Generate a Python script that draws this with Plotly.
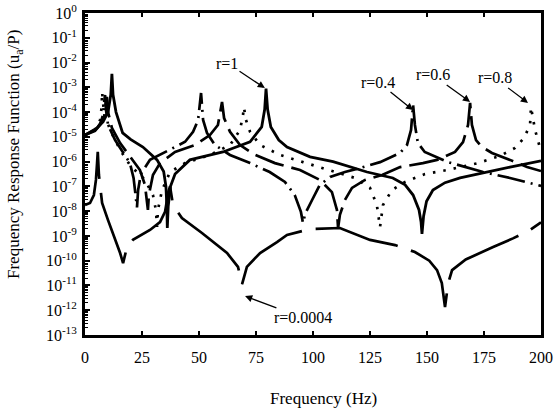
import numpy as np
import plotly.graph_objects as go

# ---- data: frequency (Hz) and log10 of FRF (u_a/P) ----
r1_f = [0, 4.4, 7.9, 10.1, 11.3, 11.8, 12.3, 13.6, 16.5, 20.0, 25.4, 31.6, 34.5, 35.5, 35.9, 36.1,
        36.5, 37.5, 39.5, 46.0, 60.5, 72.4, 77.5, 78.8, 79.4, 80.1, 81.5, 85.0, 88.6, 98.7, 108.8,
        123.7, 135.0, 140.4, 143.9, 146.5, 147.4, 147.8, 148.5, 149.8, 152.6, 157.9, 164.5, 176.3,
        186.4, 200]
r1_L = [-4.93, -4.72, -4.40, -4.00, -3.30, -2.46, -3.30, -4.00, -4.84, -5.10, -5.41, -5.93, -6.40,
        -7.00, -7.80, -8.68, -7.80, -7.00, -6.50, -5.93, -5.61, -5.20, -4.60, -3.90, -3.05, -3.90,
        -4.60, -5.13, -5.41, -5.81, -6.00, -6.42, -6.66, -6.94, -7.35, -7.95, -8.44, -8.92, -8.20,
        -7.60, -7.15, -6.85, -6.66, -6.42, -6.22, -5.97]

r04_f = [0, 4.4, 6.6, 7.9, 8.4, 8.8, 9.2, 10.1, 13.2, 16.7, 19.7, 21.3, 22.2, 22.8, 23.3, 24.5,
         28.5, 37.3, 43.9, 47.4, 49.6, 50.9, 51.8, 53.5, 57.0, 63.6, 72.4, 81.0, 87.7, 92.0, 94.7,
         95.6, 96.6, 99.6, 103.0, 107.5, 114.0, 120.6, 129.4, 138.2, 141.2, 143.0, 143.9, 144.7,
         146.0, 149.0, 159.2, 174.6, 186.4, 200]
r04_L = [-4.93, -4.76, -4.52, -4.12, -3.60, -3.31, -3.90, -4.52, -5.13, -5.61, -6.06, -6.66, -7.35,
         -7.85, -7.15, -6.50, -5.93, -5.53, -5.20, -4.80, -4.32, -3.23, -4.32, -4.84, -5.33, -5.73,
         -6.06, -6.42, -6.82, -7.35, -8.03, -8.48, -8.10, -7.55, -6.94, -6.62, -6.42, -6.26, -6.02,
         -5.65, -5.33, -4.72, -3.71, -4.52, -5.25, -5.61, -6.02, -6.42, -6.66, -6.98]

r06_f = [0, 5.3, 8.3, 9.2, 9.6, 10.1, 11.8, 15.4, 19.7, 24.1, 26.3, 27.2, 27.6, 28.0, 29.8, 32.9,
         39.5, 48.2, 54.8, 58.3, 59.6, 60.1, 61.0, 63.6, 68.0, 74.6, 83.3, 94.3, 103.0, 108.3, 110.5,
         111.0, 111.8, 114.0, 117.1, 122.8, 130.3, 138.2, 148.2, 154.4, 162.3, 165.8, 168.0, 168.9,
         169.7, 171.5, 174.1, 178.5, 186.4, 193.9, 200]
r06_L = [-4.93, -4.64, -4.24, -3.71, -3.39, -4.00, -4.64, -5.25, -5.81, -6.34, -6.94, -7.55, -7.95,
         -7.35, -6.54, -6.06, -5.61, -5.33, -4.93, -4.52, -3.92, -3.59, -4.24, -4.80, -5.33, -5.73,
         -6.06, -6.34, -6.74, -7.23, -7.95, -8.68, -8.15, -7.55, -7.06, -6.74, -6.54, -6.22, -6.06,
         -5.93, -5.61, -5.21, -4.52, -3.63, -4.52, -5.13, -5.41, -5.65, -5.93, -6.22, -6.38]

r08_f = [0, 4.4, 6.6, 7.3, 7.5, 7.9, 8.3, 11.0, 15.4, 19.7, 26.3, 29.8, 31.1, 31.6, 32.0, 33.8,
         37.3, 43.9, 54.8, 63.6, 68.0, 69.3, 69.7, 70.6, 72.4, 76.8, 85.5, 95.6, 109.6, 118.4, 125.0,
         128.0, 129.4, 130.7, 134.6, 140.4, 149.1, 158.8, 172.4, 182.0, 188.6, 192.5, 195.2, 195.6,
         197.4, 200]
r08_L = [-4.93, -4.72, -4.32, -3.80, -3.19, -3.60, -4.00, -4.72, -5.53, -6.14, -6.74, -7.35, -7.95,
         -8.64, -7.95, -7.15, -6.42, -6.06, -5.73, -5.33, -4.72, -4.12, -3.80, -4.32, -4.80, -5.33,
         -5.73, -6.02, -6.42, -6.66, -7.06, -7.75, -8.64, -7.75, -7.15, -6.82, -6.50, -6.34, -6.06,
         -5.77, -5.45, -5.05, -4.52, -3.80, -4.72, -5.60]

r00004_f = [0, 2.2, 3.9, 4.8, 5.3, 5.6, 6.1, 7.5, 10.1, 12.3, 15.4, 16.7, 18.4, 21.0, 28.5, 32.9,
            35.1, 36.6, 37.3, 38.6, 42.5, 51.3, 59.2, 62.3, 67.1, 68.9, 71.0, 76.8, 84.2, 88.6,
            98.7, 111.8, 125.0, 136.0, 144.7, 151.0, 154.4, 156.5, 157.9, 159.3, 161.0, 167.0,
            179.0, 187.7, 195.2, 200]
r00004_L = [-7.75, -7.67, -7.35, -6.74, -6.06, -5.60, -6.54, -7.67, -8.36, -8.88, -9.69, -10.10,
            -9.45, -9.16, -8.76, -8.44, -8.03, -7.20, -7.00, -7.75, -8.28, -8.88, -9.49, -9.69,
            -10.25, -10.95, -10.25, -9.69, -9.25, -8.96, -8.72, -8.68, -9.16, -9.37, -9.65, -10.00,
            -10.38, -10.90, -11.87, -10.90, -10.38, -9.95, -9.45, -9.10, -8.76, -8.45]

y_exponents = list(range(0, -14, -1))
x_ticks = [0, 25, 50, 75, 100, 125, 150, 175, 200]

SERIF = "Liberation Serif, Times New Roman, serif"

fig = go.Figure()

def add_curve(f, L, dash, width=2.7):
    fig.add_trace(go.Scatter(
        x=f, y=np.power(10.0, np.array(L)), mode="lines",
        line=dict(color="black", width=width, dash=dash),
        hoverinfo="skip"))

add_curve(r00004_f, r00004_L, "85px,14px")
add_curve(r04_f, r04_L, "28px,6px,2px,6px")
add_curve(r06_f, r06_L, "30px,8px")
add_curve(r08_f, r08_L, "2.5px,8px", width=2.7)
add_curve(r1_f, r1_L, "solid", width=2.8)

fig.update_xaxes(
    range=[0, 200], tickvals=x_ticks, ticktext=[str(v) for v in x_ticks],
    ticks="inside", ticklen=4, tickwidth=1.5, tickcolor="black",
    showline=True, linewidth=2.5, linecolor="black", mirror="ticks",
    showgrid=False, zeroline=False, automargin=False,
    tickfont=dict(family=SERIF, size=16, color="black"),
    ticklabelstandoff=6,
)
fig.update_yaxes(
    type="log", range=[-13, 0],
    tickvals=[10.0 ** e for e in y_exponents],
    ticktext=["10<sup>%d</sup>" % e for e in y_exponents],
    ticks="inside", ticklen=5, tickwidth=1.5, tickcolor="black",
    minor=dict(ticks="inside", ticklen=3, tickcolor="black", tickwidth=1, dtick="D1", showgrid=False),
    showline=True, linewidth=3, linecolor="black", mirror=True,
    showgrid=False, zeroline=False, automargin=False,
    tickfont=dict(family=SERIF, size=16, color="black"),
    ticklabelstandoff=2,
)

labels = [
    # text, arrow head (x, log10 y), text centre (x, log10 y)
    ("r=1", 78.9, -3.03, 62.3, -2.02),
    ("r=0.4", 143.9, -3.92, 128.5, -2.79),
    ("r=0.6", 168.9, -3.59, 152.6, -2.50),
    ("r=0.8", 194.3, -3.63, 179.8, -2.62),
    ("r=0.0004", 70.2, -11.43, 95.6, -12.31),
]
for t, hx, hy, tx, ty in labels:
    fig.add_annotation(x=hx, y=hy, ax=tx, ay=ty, axref="x", ayref="y", text=t,
                       showarrow=True, arrowhead=2, arrowsize=1.1, arrowwidth=1.3,
                       arrowcolor="black", standoff=0,
                       font=dict(family=SERIF, size=16, color="black"))

fig.add_annotation(xref="paper", yref="paper", x=0.522, y=-0.196, text="Frequency (Hz)",
                   showarrow=False, font=dict(family=SERIF, size=17, color="black"),
                   xanchor="center", yanchor="middle")
fig.add_annotation(xref="paper", yref="paper", x=-0.1535, y=0.559,
                   text="Frequency Response Function (u<sub>a</sub>/P)", textangle=-90,
                   showarrow=False, font=dict(family=SERIF, size=17, color="black"),
                   xanchor="center", yanchor="middle")

fig.update_layout(
    width=556, height=411, margin=dict(l=85, r=15, t=13, b=76, autoexpand=False),
    plot_bgcolor="white", paper_bgcolor="white", showlegend=False,
    font=dict(family=SERIF, size=16, color="black"),
)

fig.write_html("out.html")
